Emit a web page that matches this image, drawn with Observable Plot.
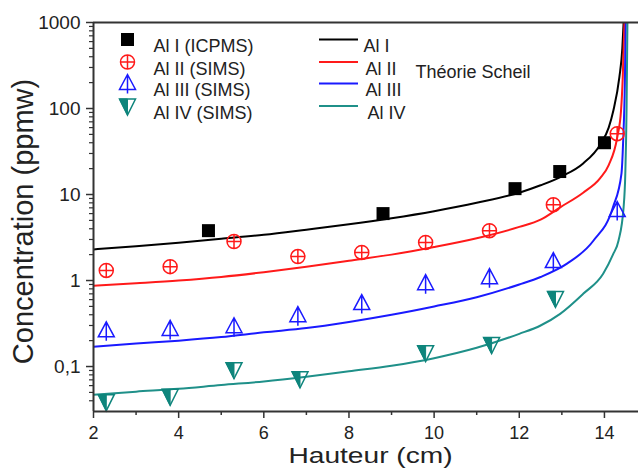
<!DOCTYPE html>
<html>
<head>
<meta charset="utf-8">
<script src="https://cdn.jsdelivr.net/npm/d3@7"></script>
<script src="https://cdn.jsdelivr.net/npm/@observablehq/plot@0.6"></script>
<style>
  html, body { margin: 0; padding: 0; background: #fff; }
  #chart svg { display: block; }
</style>
</head>
<body>
<div id="chart"></div>
<script>
// ---- tick labels ----
const xTicks = [2, 4, 6, 8, 10, 12, 14];
const xMinor = [3, 5, 7, 9, 11, 13];
const yTicks = [0.1, 1, 10, 100, 1000];
const yTickLabels = ["0,1", "1", "10", "100", "1000"];
const yMinor = [0.04, 0.05, 0.06, 0.07, 0.08, 0.09,
  0.2, 0.3, 0.4, 0.5, 0.6, 0.7, 0.8, 0.9,
  2, 3, 4, 5, 6, 7, 8, 9,
  20, 30, 40, 50, 60, 70, 80, 90,
  200, 300, 400, 500, 600, 700, 800, 900];

// ---- measured points ----
const alI_x = [4.7, 8.8, 11.9, 12.95, 14.0];
const alI_y = [3.8, 6.0, 11.7, 18.5, 40];
const alII_x = [2.3, 3.8, 5.3, 6.8, 8.3, 9.8, 11.3, 12.8, 14.3];
const alII_y = [1.31, 1.45, 2.84, 1.9, 2.12, 2.77, 3.8, 7.6, 51];
const alIII_x = [2.3, 3.8, 5.3, 6.8, 8.3, 9.8, 11.3, 12.8, 14.3];
const alIII_y = [0.26, 0.27, 0.29, 0.39, 0.54, 0.92, 1.08, 1.66, 6.5];
const alIV_x = [2.3, 3.8, 5.3, 6.85, 9.8, 11.35, 12.85];
const alIV_y = [0.039, 0.045, 0.092, 0.072, 0.145, 0.18, 0.62];

// ---- Scheil curves ----
const schI_x = [2, 3, 4, 5, 6, 7, 8, 9, 10, 11, 12, 12.5, 13, 13.5, 13.9, 14.1, 14.21, 14.35, 14.42, 14.45];
const schI_y = [2.3, 2.5, 2.75, 3.05, 3.4, 3.9, 4.5, 5.3, 6.4, 8.0, 10.5, 12.8, 16.3, 23, 38, 60, 95, 230, 500, 1000];
const schII_x = [2, 3, 4, 5, 6, 7, 8, 9, 10, 11, 12, 12.5, 12.96, 13.5, 13.9, 14.1, 14.3, 14.39, 14.43, 14.47];
const schII_y = [0.87, 0.93, 1.0, 1.1, 1.25, 1.45, 1.7, 2.0, 2.45, 3.1, 4.2, 5.1, 7.1, 10.5, 15.5, 22, 46, 95, 230, 1000];
const schIII_x = [2, 3, 4, 5, 6, 7, 8, 9, 10, 11, 12, 12.5, 13.13, 13.74, 14.2, 14.4, 14.44, 14.48, 14.5];
const schIII_y = [0.17, 0.185, 0.2, 0.22, 0.25, 0.28, 0.33, 0.4, 0.5, 0.64, 0.9, 1.1, 1.58, 2.9, 7.1, 17.5, 42, 200, 1000];
const schIV_x = [2, 3, 4, 5, 6, 7, 8, 9, 10, 11, 12, 12.5, 12.96, 13.5, 13.97, 14.2, 14.33, 14.45, 14.49, 14.52, 14.54];
const schIV_y = [0.047, 0.051, 0.055, 0.061, 0.067, 0.076, 0.088, 0.102, 0.125, 0.165, 0.24, 0.3, 0.41, 0.7, 1.2, 2.0, 2.9, 7.1, 17.5, 100, 1000];

// ---- legend / labels ----
const legendMarkLabels = ["Al I (ICPMS)", "Al II (SIMS)", "Al III (SIMS)", "Al IV (SIMS)"];
const legendLineLabels = ["Al I", "Al II", "Al III", "Al IV"];
const legendNote = "Théorie Scheil";
const xLabel = "Hauteur (cm)";
const yLabel = "Concentration (ppmw)";

const colors = ["#000000", "#ff1a1a", "#1a1aff", "#0e857c"];
const lineColors = ["#000000", "#ff1a1a", "#1a1aff", "#1f9089"];

// ---- custom symbols ----
const symSquare = {draw(c) { c.rect(-6.5, -6.5, 13, 13); }};
const symCirclePlus = {draw(c) {
  const r = 7;
  c.moveTo(r, 0); c.arc(0, 0, r, 0, 2 * Math.PI);
  c.moveTo(-r, 0); c.lineTo(r, 0);
  c.moveTo(0, -r); c.lineTo(0, r);
}};
const symTriUpLine = {draw(c) {
  c.moveTo(0, -9); c.lineTo(8, 6); c.lineTo(-8, 6); c.closePath();
  c.moveTo(0, -9); c.lineTo(0, 10);
}};
const symTriDown = {draw(c) {
  c.moveTo(-8, -7); c.lineTo(8, -7); c.lineTo(0, 9); c.closePath();
}};
const symTriDownHalf = {draw(c) {
  c.moveTo(-8, -7); c.lineTo(0, -7); c.lineTo(0, 9); c.closePath();
}};
const symHLine = {draw(c) { c.moveTo(-19.5, 0); c.lineTo(19.5, 0); }};

const pts = (xs, ys) => xs.map((x, i) => ({x, y: ys[i]}));

function markerMarks(data, k, opts = {}) {
  const base = {x: "x", y: "y", ...opts};
  if (k === 0) return [Plot.dot(data, {...base, symbol: symSquare, fill: colors[0], stroke: "none"})];
  if (k === 1) return [Plot.dot(data, {...base, symbol: symCirclePlus, fill: "none", stroke: colors[1], strokeWidth: 1.5})];
  if (k === 2) return [Plot.dot(data, {...base, symbol: symTriUpLine, fill: "none", stroke: colors[2], strokeWidth: 1.5})];
  return [
    Plot.dot(data, {...base, symbol: symTriDown, fill: "none", stroke: colors[3], strokeWidth: 1.5}),
    Plot.dot(data, {...base, symbol: symTriDownHalf, fill: colors[3], stroke: colors[3], strokeWidth: 1})
  ];
}

const series = [pts(alI_x, alI_y), pts(alII_x, alII_y), pts(alIII_x, alIII_y), pts(alIV_x, alIV_y)];
const curves = [pts(schI_x, schI_y), pts(schII_x, schII_y), pts(schIII_x, schIII_y), pts(schIV_x, schIV_y)];

const mLeft = 93, mTop = 22;
const legendRows = [39, 61.5, 83, 105.5];
const legendFont = 18;

const legendMarks = [];
legendMarkLabels.forEach((lab, i) => {
  const anchor = {frameAnchor: "top-left", dx: 127 - mLeft, dy: legendRows[i] - mTop};
  legendMarks.push(...markerMarks([lab], i, {x: null, y: null, ...anchor}));
  legendMarks.push(Plot.text([lab], {frameAnchor: "top-left", dx: 153 - mLeft, dy: legendRows[i] - mTop,
    text: d => d, textAnchor: "start", fontSize: legendFont, fill: "#222"}));
});
legendLineLabels.forEach((lab, i) => {
  legendMarks.push(Plot.dot([lab], {frameAnchor: "top-left", dx: 338 - mLeft, dy: legendRows[i] - mTop,
    symbol: symHLine, stroke: lineColors[i], strokeWidth: 2, fill: "none"}));
  legendMarks.push(Plot.text([lab], {frameAnchor: "top-left", dx: 363 + (i > 0 ? 2 : 0) + (i === 3 ? 2 : 0) - mLeft, dy: legendRows[i] - mTop,
    text: d => d, textAnchor: "start", fontSize: legendFont, fill: "#222"}));
});
legendMarks.push(Plot.text([legendNote], {frameAnchor: "top-left", dx: 415 - mLeft, dy: 65 - mTop,
  text: d => d, textAnchor: "start", fontSize: legendFont, fill: "#222"}));

const axisColor = "#333";

const chart = Plot.plot({
  width: 638,
  height: 468,
  marginLeft: mLeft,
  marginTop: mTop,
  marginRight: 0,
  marginBottom: 57,
  style: {fontFamily: "Arial, 'Liberation Sans', sans-serif", background: "#fff", color: "#222"},
  x: {domain: [2, 14.8], axis: null},
  y: {type: "log", domain: [0.03, 1000], axis: null},
  marks: [
    // curves
    ...curves.map((c, i) => Plot.line(c, {x: "x", y: "y", stroke: lineColors[i], strokeWidth: 2, curve: "monotone-x", clip: true})),
    // points
    ...series.flatMap((s, i) => markerMarks(s, i)),
    // axes
    Plot.axisX(xTicks, {anchor: "bottom", tickSize: 7, tickPadding: 8, fontSize: 18, label: null, stroke: axisColor, strokeWidth: 1.5, fill: "#222"}),
    Plot.axisX(xMinor, {anchor: "bottom", tickSize: 4, tickFormat: () => "", label: null, stroke: axisColor, strokeWidth: 1.5}),
    Plot.axisY(yTicks, {anchor: "left", tickSize: 7, tickPadding: 6, fontSize: 19, label: null,
      tickFormat: d => yTickLabels[yTicks.indexOf(d)], stroke: axisColor, strokeWidth: 1.5, fill: "#222"}),
    Plot.axisY(yMinor, {anchor: "left", tickSize: 4, tickFormat: () => "", label: null, stroke: axisColor, strokeWidth: 1.2}),
    Plot.ruleY([0.03], {stroke: axisColor, strokeWidth: 2}),
    Plot.ruleY([1000], {stroke: axisColor, strokeWidth: 2}),
    Plot.ruleX([2], {stroke: axisColor, strokeWidth: 2}),
    ...legendMarks
  ]
});

const svg = d3.select(chart);
svg.append("text")
  .attr("transform", "translate(370.5,463) scale(1.28,1)")
  .attr("text-anchor", "middle")
  .attr("font-size", 22)
  .attr("fill", "#222")
  .text(xLabel);
svg.append("text")
  .attr("transform", "translate(33,221.5) rotate(-90)")
  .attr("text-anchor", "middle")
  .attr("font-size", 29)
  .attr("fill", "#222")
  .text(yLabel);

document.getElementById("chart").appendChild(chart);
</script>
</body>
</html>
